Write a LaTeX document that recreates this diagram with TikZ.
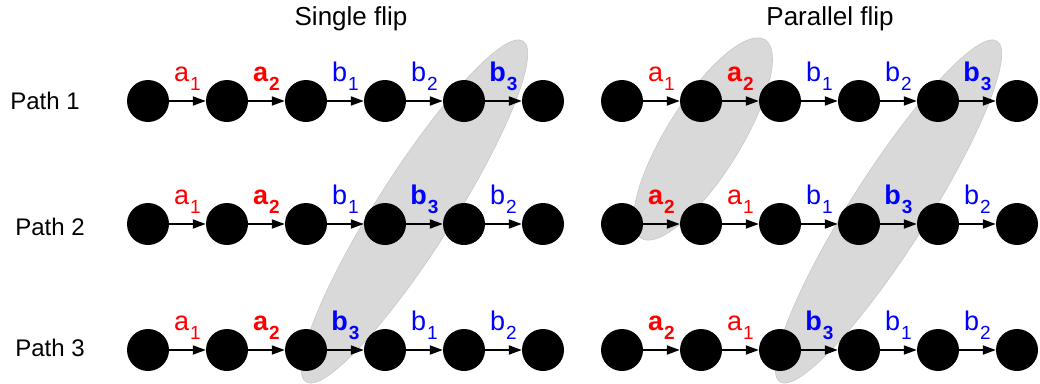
\documentclass[tikz,border=0pt]{standalone}
\usepackage{fontspec}
\setmainfont{Liberation Sans}
\usetikzlibrary{arrows.meta}
\definecolor{lred}{RGB}{255,0,0}
\definecolor{lblue}{RGB}{0,0,255}
\definecolor{shade}{RGB}{217,217,217}
\definecolor{shadeline}{RGB}{200,200,200}
\newcommand{\lsub}[1]{\kern1pt\raisebox{-9pt}{\fontsize{19}{19}\selectfont #1}}
\newcommand{\labA}[1]{\textcolor{lred}{a\lsub{#1}}}
\newcommand{\labAb}[1]{\textcolor{lred}{\bfseries a\lsub{#1}}}
\newcommand{\labB}[1]{\textcolor{lblue}{b\lsub{#1}}}
\newcommand{\labBb}[1]{\textcolor{lblue}{\bfseries b\lsub{#1}}}
\newcommand{\chain}[8]{%
  \foreach \k in {0,...,5}{\node[dot] (#1\k) at ({#2+79*\k},#3) {};}
  \draw[edge] (#10) -- (#11) node[lab] {#4};
  \draw[edge] (#11) -- (#12) node[lab] {#5};
  \draw[edge] (#12) -- (#13) node[lab] {#6};
  \draw[edge] (#13) -- (#14) node[lab] {#7};
  \draw[edge] (#14) -- (#15) node[lab] {#8};
}
\begin{document}
\begin{tikzpicture}[x=1pt,y=-1pt,
  dot/.style={circle,fill=black,minimum size=42pt,inner sep=0pt},
  edge/.style={line width=1.8pt,-{Triangle[length=13pt,width=9pt]}},
  lab/.style={midway,anchor=base,yshift=20pt,inner sep=0pt,font=\fontsize{27}{27}\selectfont},
  title/.style={anchor=base,font=\fontsize{26}{26}\selectfont},
  pathlab/.style={anchor=base,font=\fontsize{24}{24}\selectfont},
  blob/.style={fill=shade,draw=shadeline,line width=0.6pt}]
\useasboundingbox (0,0) rectangle (1040,383);
% shaded groups
\path[blob,rotate around={57.5:(414.5,211.5)}] (414.5,211.5) ellipse [x radius=202pt,y radius=38pt];
\path[blob,rotate around={58:(703,139)}] (703,139) ellipse [x radius=117pt,y radius=37pt];
\path[blob,rotate around={57.5:(888.5,211.5)}] (888.5,211.5) ellipse [x radius=202pt,y radius=38pt];
% titles
\node[title] (t1) at (351,25) {Single flip};
\node[title] (t2) at (830,25) {Parallel flip};
\node[pathlab] (p1) at (45,109) {Path 1};
\node[pathlab] (p2) at (50,235) {Path 2};
\node[pathlab] (p3) at (50,356) {Path 3};
% single flip
\chain{La}{148}{101}{\labA{1}}{\labAb{2}}{\labB{1}}{\labB{2}}{\labBb{3}}
\chain{Lb}{148}{224}{\labA{1}}{\labAb{2}}{\labB{1}}{\labBb{3}}{\labB{2}}
\chain{Lc}{148}{350}{\labA{1}}{\labAb{2}}{\labBb{3}}{\labB{1}}{\labB{2}}
% parallel flip
\chain{Ra}{622}{101}{\labA{1}}{\labAb{2}}{\labB{1}}{\labB{2}}{\labBb{3}}
\chain{Rb}{622}{224}{\labAb{2}}{\labA{1}}{\labB{1}}{\labBb{3}}{\labB{2}}
\chain{Rc}{622}{350}{\labAb{2}}{\labA{1}}{\labBb{3}}{\labB{1}}{\labB{2}}
\end{tikzpicture}
\end{document}
